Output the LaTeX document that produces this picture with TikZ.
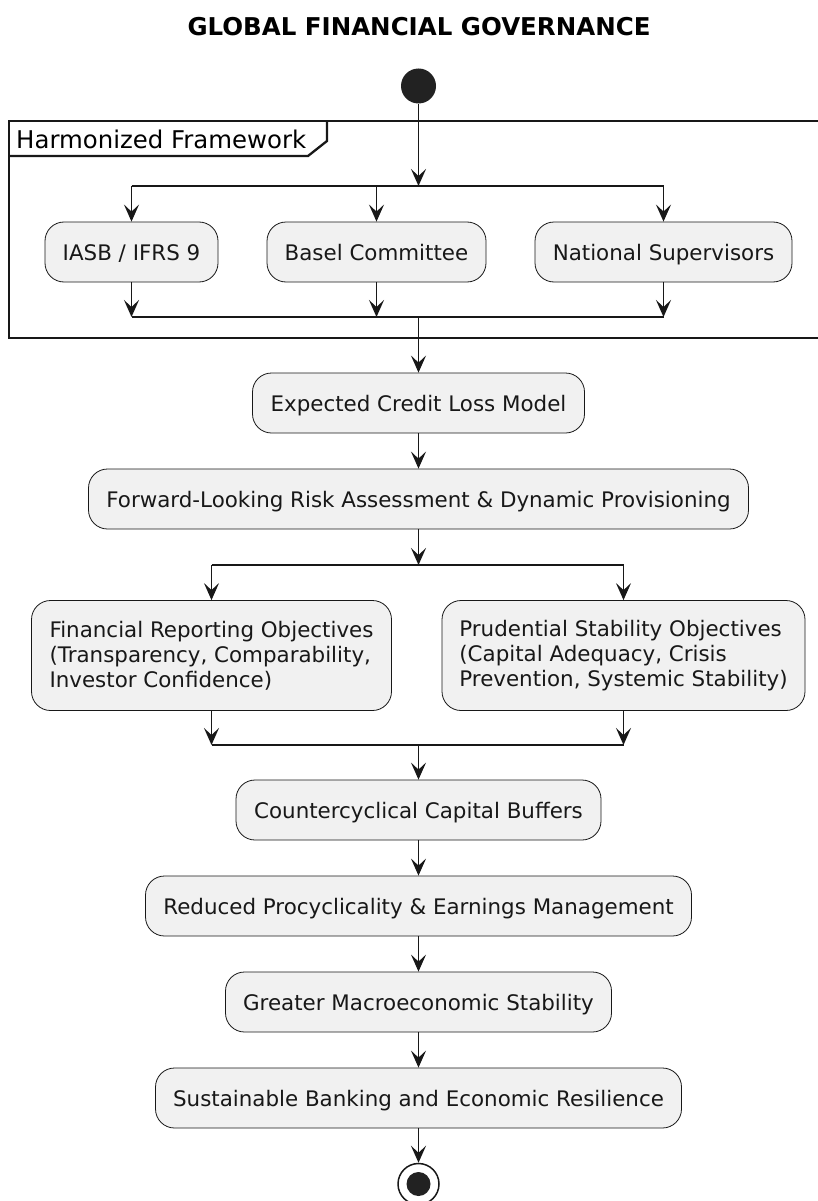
\documentclass[tikz,border=0pt]{standalone}
\usepackage{fontspec}
\setmainfont{DejaVu Sans}
\usetikzlibrary{arrows.meta,shapes.misc}
\definecolor{boxfill}{HTML}{F1F1F1}
\definecolor{ink}{HTML}{181818}
\definecolor{dot}{HTML}{222222}
\tikzset{
  actbox/.style={draw=ink, line width=0.8pt, fill=boxfill, rounded corners=19pt,
    inner sep=0pt, minimum height=60pt, font=\fontsize{21.4}{25}\selectfont, text=ink,
    text height=20pt, text depth=4pt},
  multibox/.style={draw=ink, line width=0.8pt, fill=boxfill, rounded corners=19pt,
    inner sep=0pt, minimum height=110pt, align=left, font=\fontsize{21.4}{25}\selectfont, text=ink},
  arr/.style={draw=ink, line width=1.7pt, -{Stealth[length=17pt,width=15pt,inset=7pt]}},
  barline/.style={draw=ink, line width=2.4pt},
  framebox/.style={draw=ink, line width=2.3pt}
}
\begin{document}
\begin{tikzpicture}[x=1pt,y=-1pt]
\path[use as bounding box, clip] (0,0) rectangle (818,1201);
\fill[white] (0,0) rectangle (818,1201);

% title
\node[font=\fontsize{24.5}{28}\selectfont\bfseries, text=black] (title) at (419,27) {GLOBAL FINANCIAL GOVERNANCE};

% start
\node[circle, fill=dot, minimum size=35pt, inner sep=0pt] (start) at (418.5,86) {};

% frame
\draw[framebox] (9,121) rectangle (840,338);
\draw[framebox] (9,156) -- (308,156) -- (327,141) -- (327,121);
\node[anchor=west, font=\fontsize{24.4}{28}\selectfont, text=black, inner sep=0pt] (framelabel) at (16,139) {Harmonized Framework};

% fork/join coordinates
\coordinate (f1m) at (418.5,186);
\coordinate (f1a) at (131.5,186);
\coordinate (f1b) at (376.5,186);
\coordinate (f1c) at (663.5,186);
\coordinate (j1m) at (418.5,317);
\coordinate (j1a) at (131.5,317);
\coordinate (j1b) at (376.5,317);
\coordinate (j1c) at (663.5,317);
\coordinate (f2m) at (418.5,565);
\coordinate (f2a) at (211.5,565);
\coordinate (f2b) at (623.5,565);
\coordinate (j2m) at (418.5,745);
\coordinate (j2a) at (211.5,745);
\coordinate (j2b) at (623.5,745);

% boxes
\node[actbox, minimum width=173pt] (iasb) at (131.5,252) {IASB / IFRS 9};
\node[actbox, minimum width=219pt] (basel) at (376.5,252) {Basel Committee};
\node[actbox, minimum width=257pt] (natl) at (663.5,252) {National Supervisors};
\node[actbox, minimum width=332pt] (ecl) at (418.5,403) {Expected Credit Loss Model};
\node[actbox, minimum width=660pt] (fl) at (418.5,499) {Forward-Looking Risk Assessment \& Dynamic Provisioning};
\node[multibox, minimum width=360pt] (fr) at (211.5,655.5) {Financial Reporting Objectives\\(Transparency, Comparability,\\Investor Confidence)};
\node[multibox, minimum width=363pt] (ps) at (623.5,655.5) {Prudential Stability Objectives\\(Capital Adequacy, Crisis\\Prevention, Systemic Stability)};
\node[actbox, minimum width=365pt] (ccb) at (418.5,810) {Countercyclical Capital Buffers};
\node[actbox, minimum width=546pt] (rp) at (418.5,906) {Reduced Procyclicality \& Earnings Management};
\node[actbox, minimum width=386pt] (gm) at (418.5,1002) {Greater Macroeconomic Stability};
\node[actbox, minimum width=526pt] (sb) at (418.5,1098) {Sustainable Banking and Economic Resilience};

% end
\node[circle, draw=ink, line width=1.5pt, fill=white, minimum size=41pt, inner sep=0pt] (endc) at (418.5,1184) {};
\fill[dot] (endc.center) circle (12pt);

% connectors
\draw[arr] (start.south) -- (f1m);
\draw[barline] (f1a) -- (f1c);
\draw[arr] (f1a) -- (iasb.north);
\draw[arr] (f1b) -- (basel.north);
\draw[arr] (f1c) -- (natl.north);
\draw[arr] (iasb.south) -- (j1a);
\draw[arr] (basel.south) -- (j1b);
\draw[arr] (natl.south) -- (j1c);
\draw[barline] (j1a) -- (j1c);
\draw[arr] (j1m) -- (ecl.north);
\draw[arr] (ecl.south) -- (fl.north);
\draw[arr] (fl.south) -- (f2m);
\draw[barline] (f2a) -- (f2b);
\draw[arr] (f2a) -- (fr.north);
\draw[arr] (f2b) -- (ps.north);
\draw[arr] (fr.south) -- (j2a);
\draw[arr] (ps.south) -- (j2b);
\draw[barline] (j2a) -- (j2b);
\draw[arr] (j2m) -- (ccb.north);
\draw[arr] (ccb.south) -- (rp.north);
\draw[arr] (rp.south) -- (gm.north);
\draw[arr] (gm.south) -- (sb.north);
\draw[arr] (sb.south) -- (endc.north);
\end{tikzpicture}
\end{document}
